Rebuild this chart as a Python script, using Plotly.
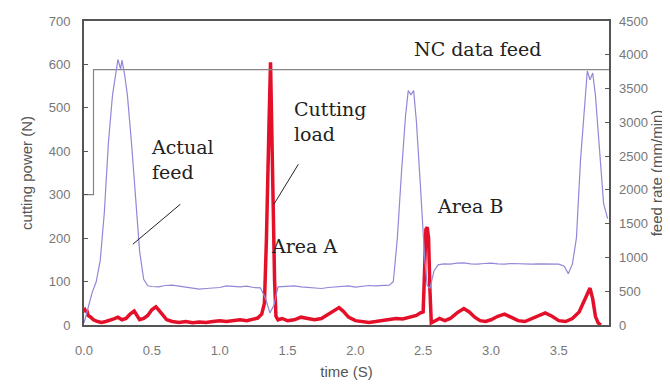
import plotly.graph_objects as go

# ---- data ----
nc_time = [0.0, 0.07, 0.07, 3.87]
nc_feed = [1930, 1930, 3780, 3780]          # mm/min (right axis)

feed_time = [0.00, 0.03, 0.06, 0.09, 0.12, 0.15, 0.18, 0.21, 0.23, 0.25, 0.27, 0.28, 0.30, 0.32,
             0.35, 0.38, 0.41, 0.44, 0.47, 0.50, 0.55, 0.60, 0.65, 0.70, 0.75, 0.80, 0.85, 0.90,
             0.95, 1.00, 1.05, 1.10, 1.15, 1.20, 1.25, 1.30, 1.34, 1.37, 1.40, 1.43, 1.48, 1.55,
             1.60, 1.65, 1.70, 1.75, 1.80, 1.85, 1.90, 1.95, 2.00, 2.05, 2.10, 2.15, 2.20, 2.25,
             2.28, 2.31, 2.34, 2.37, 2.39, 2.41, 2.43, 2.45, 2.48, 2.51, 2.53, 2.55, 2.58, 2.61,
             2.65, 2.70, 2.75, 2.80, 2.85, 2.90, 2.95, 3.00, 3.05, 3.10, 3.15, 3.20, 3.25, 3.30,
             3.35, 3.40, 3.45, 3.50, 3.54, 3.57, 3.60, 3.63, 3.66, 3.69, 3.71, 3.73, 3.75, 3.77,
             3.80, 3.83, 3.86]
feed_rate = [30, 260, 480, 640, 960, 1670, 2700, 3400, 3670, 3930, 3790, 3920, 3700, 3400,
             2700, 1930, 1090, 675, 580, 570, 565, 585, 590, 575, 560, 545, 530, 540,
             545, 555, 580, 570, 565, 575, 555, 550, 385, 180, 290, 565, 575, 580,
             565, 555, 545, 540, 555, 565, 575, 580, 560, 570, 585, 580, 590, 590,
             640, 1290, 2250, 3090, 3470, 3410, 3470, 3020, 2060, 1030, 580, 545, 800, 890,
             905, 900, 915, 920, 905, 900, 910, 915, 905, 900, 910, 905, 895, 900,
             905, 900, 895, 900, 870, 760, 900, 1290, 2440, 3215, 3760, 3630, 3730, 3400,
             2570, 1800, 1575]

load_time = [0.00, 0.01, 0.02, 0.03, 0.05, 0.07, 0.10, 0.13, 0.16, 0.19, 0.22, 0.25, 0.28, 0.31,
             0.34, 0.37, 0.39, 0.41, 0.44, 0.47, 0.50, 0.53, 0.55, 0.58, 0.61, 0.65, 0.70, 0.75,
             0.80, 0.85, 0.90, 0.95, 1.00, 1.05, 1.10, 1.15, 1.20, 1.25, 1.28, 1.31, 1.33, 1.345,
             1.355, 1.365, 1.375, 1.385, 1.395, 1.405, 1.415, 1.43, 1.46, 1.50, 1.55, 1.60, 1.65,
             1.70, 1.75, 1.80, 1.85, 1.88, 1.91, 1.95, 2.00, 2.05, 2.10, 2.15, 2.20, 2.25, 2.30,
             2.35, 2.40, 2.45, 2.48, 2.50, 2.51, 2.52, 2.53, 2.54, 2.55, 2.56, 2.58, 2.62, 2.66,
             2.70, 2.75, 2.80, 2.84, 2.88, 2.92, 2.96, 3.00, 3.05, 3.10, 3.15, 3.20, 3.25, 3.30,
             3.35, 3.40, 3.45, 3.50, 3.55, 3.60, 3.65, 3.68, 3.71, 3.73, 3.75, 3.77, 3.79, 3.81]
load_power = [40, 30, 35, 22, 18, 12, 8, 6, 8, 10, 14, 18, 12, 15,
              25, 32, 22, 12, 15, 22, 35, 42, 35, 22, 12, 8, 6, 8,
              5, 7, 6, 8, 10, 8, 10, 12, 10, 14, 16, 25, 50, 200,
              380, 480, 605, 420, 250, 100, 20, 12, 15, 10, 12, 18, 15,
              12, 15, 25, 35, 40, 32, 18, 10, 8, 6, 8, 10, 12, 15,
              14, 18, 22, 28, 30, 120, 220, 225, 200, 80, 5, 8, 15, 10,
              15, 28, 38, 30, 18, 10, 8, 12, 20, 25, 18, 10, 8, 15,
              22, 28, 20, 10, 8, 15, 30, 50, 70, 85, 60, 20, 5, 0]

x_ticks = [0.0, 0.5, 1.0, 1.5, 2.0, 2.5, 3.0, 3.5]
x_tick_labels = ["0.0", "0.5", "1.0", "1.5", "2.0", "2.5", "3.0", "3.5"]

fig = go.Figure()
fig.add_trace(go.Scatter(x=nc_time, y=nc_feed, yaxis="y2", mode="lines",
                         line=dict(color="#8a8480", width=1.2), showlegend=False))
fig.add_trace(go.Scatter(x=feed_time, y=feed_rate, yaxis="y2", mode="lines",
                         line=dict(color="#9088d8", width=1.2), showlegend=False))
fig.add_trace(go.Scatter(x=load_time, y=load_power, mode="lines",
                         line=dict(color="#e4102a", width=3.5), showlegend=False))

tickfont = dict(family="Liberation Sans, Arial, sans-serif", size=13, color="#777777")
titlefont = dict(family="Liberation Sans, Arial, sans-serif", size=15, color="#555555")
serif = dict(family="DejaVu Serif, serif", size=19, color="#222222")

fig.update_layout(
    width=670, height=384,
    margin=dict(l=76, r=69, t=13, b=67),
    paper_bgcolor="white", plot_bgcolor="white",
    xaxis=dict(range=[0, 3.87], tickvals=x_ticks, ticktext=x_tick_labels, automargin=False,
               showgrid=False, zeroline=False, tickfont=tickfont, ticklabelstandoff=12,
               showline=True, linecolor="#555555", linewidth=2, mirror=True,
               ticks="", title=dict(text="time (S)", font=titlefont, standoff=10)),
    yaxis=dict(range=[0, 700], dtick=100, showgrid=False, zeroline=False, automargin=False,
               tickfont=tickfont, showline=True, linecolor="#555555", linewidth=2,
               mirror=True, ticks="inside", ticklen=4, tickcolor="#555555",
               ticklabelstandoff=9,
               title=dict(text="cutting power (N)", font=titlefont, standoff=12)),
    yaxis2=dict(range=[0, 4500], dtick=500, overlaying="y", side="right", automargin=False,
                showgrid=False, zeroline=False, tickfont=tickfont,
                ticks="inside", ticklen=4, tickcolor="#555555", ticklabelstandoff=9,
                title=dict(text="feed rate (mm/min)", font=titlefont, standoff=0)),
)

fig.add_annotation(x=2.90, y=635, text="NC data feed", showarrow=False, font=serif)
fig.add_annotation(x=0.48, y=381, text="Actual<br>feed", showarrow=False, font=serif,
                   align="left", xanchor="left")
fig.add_annotation(x=1.53, y=469, text="Cutting<br>load", showarrow=False, font=serif,
                   align="left", xanchor="left")
fig.add_annotation(x=1.36, y=182, text="Area A", showarrow=False, font=serif, xanchor="left")
fig.add_annotation(x=2.59, y=275, text="Area B", showarrow=False, font=serif, xanchor="left")

fig.add_shape(type="line", x0=0.71, y0=278, x1=0.36, y1=186,
              line=dict(color="#222222", width=1))
fig.add_shape(type="line", x0=1.58, y0=370, x1=1.40, y1=278,
              line=dict(color="#222222", width=1))

fig.write_html("out.html")
